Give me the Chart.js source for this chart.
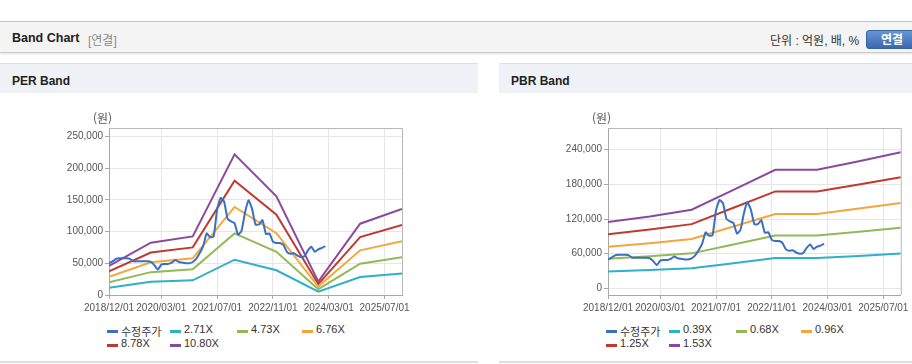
<!DOCTYPE html>
<html lang="ko">
<head>
<meta charset="utf-8">
<script src="https://cdn.jsdelivr.net/npm/chart.js@4.4.1/dist/chart.umd.min.js"></script>
<style>
  html, body { margin:0; padding:0; background:#fff; width:912px; height:364px; overflow:hidden;
    font-family:"Liberation Sans","Noto Sans CJK KR",Arial,sans-serif; }
  .hdr { position:absolute; left:0; top:21px; width:912px; height:30px; background:#f4f4f4;
    border-top:1px solid #c4c4c4; border-bottom:1px solid #cdcdcd; box-shadow:0 1px 2px rgba(0,0,0,0.12); }
  .hdr .t { position:absolute; left:12px; top:9px; font-size:12.5px; font-weight:bold; color:#222; }
  .hdr .s { position:absolute; left:88px; top:9px; font-size:12px; color:#8a8a8a; }
  .hdr .u { position:absolute; left:770px; top:9px; font-size:12px; color:#333; }
  .hdr .b { position:absolute; left:866px; top:8px; width:52px; height:19px; border-radius:3px;
    background:linear-gradient(#6796d4,#3b69b0); border:1px solid #3762a6; color:#fff;
    font-size:12px; font-weight:bold; line-height:18px; text-align:center; box-sizing:border-box; }
  .panel { position:absolute; top:63px; height:298px; border-bottom:2px solid #dedede; }
  .ph { position:absolute; left:0; top:0; right:0; height:29px; background:#eef2f7; border-top:1px solid #dcdfe3; }
  .ph span { position:absolute; left:12px; top:10px; font-size:12px; font-weight:bold; color:#222; }
  canvas { position:absolute; left:0; top:37px; }
  .lg { position:absolute; font-size:11px; color:#333; white-space:nowrap; }
  .lg i { position:absolute; left:0; width:11px; height:3px; top:7px; }
  .lg b { position:absolute; left:14px; top:0; font-weight:normal; }
</style>
</head>
<body>
<div class="hdr">
  <span class="t">Band Chart</span><span class="s">[연결]</span>
  <span class="u">단위 : 억원, 배, %</span>
  <div class="b">연결</div>
</div>
<div class="panel" id="p1" style="left:0;width:478px;">
  <div class="ph"><span>PER Band</span></div>
  <canvas id="c1" width="478" height="220"></canvas>
</div>
<div class="panel" id="p2" style="left:499px;width:413px;">
  <div class="ph"><span>PBR Band</span></div>
  <canvas id="c2" width="413" height="220"></canvas>
</div>
<script>
// ---- data ----
const xTickMonths = [0, 15, 31, 47, 63, 79];
const xTickLabels = ['2018/12/01', '2020/03/01', '2021/07/01', '2022/11/01', '2024/03/01', '2025/07/01'];
const xMaxMonth = 84; // 2025/12/01

// adjusted price, monthly from 2018/12 (month index 0)
const price = [50000, 53000, 57000, 58000, 58000, 58000, 57000, 53000, 53000, 53000,
  53000, 53000, 52000, 47000, 40000, 48000, 49000, 49000, 51000, 55000,
  52000, 51000, 50000, 50000, 52000, 57000, 66000, 77000, 97000, 91000,
  92000, 135000, 153000, 147000, 120000, 116000, 113000, 95000, 101000, 130000,
  149000, 136000, 111000, 111000, 118000, 96000, 97000, 84000, 82000, 82000,
  79000, 68000, 65000, 66000, 62000, 60000, 61000, 70000, 76000, 68000,
  72000, 74000, 77000];

// band points: months from 2018/12 (each December)
const bandMonths = [0, 12, 24, 36, 48, 60, 72, 84];

const perNames = ['2.71X', '4.73X', '6.76X', '8.78X', '10.80X'];
const per271 = [11500, 20700, 23100, 55600, 39000, 5300, 28200, 34000];
const per473 = [20100, 36000, 40400, 97000, 68100, 9200, 49200, 59400];
const per676 = [28700, 51500, 57700, 138600, 97300, 13200, 70300, 84800];
const per878 = [37300, 66900, 75000, 180100, 126400, 17100, 91300, 110200];
const per1080 = [45900, 82300, 92200, 221500, 155500, 21100, 112300, 135500];
const perTicks = [0, 50000, 100000, 150000, 200000, 250000];

const pbrNames = ['0.39X', '0.68X', '0.96X', '1.25X', '1.53X'];
const pbr039 = [29300, 31700, 34700, 43500, 52300, 52300, 56100, 60100];
const pbr068 = [51000, 55400, 60500, 75800, 91300, 91300, 97800, 104700];
const pbr096 = [72000, 78100, 85300, 107000, 128800, 128800, 138000, 147800];
const pbr125 = [93800, 101800, 111100, 139400, 167800, 167800, 179800, 192500];
const pbr153 = [114800, 124500, 136000, 170600, 205300, 205300, 220000, 235600];
const pbrTicks = [0, 60000, 120000, 180000, 240000];

const priceName = '수정주가';
const colors = ['#3a6fc1', '#2fb0c6', '#93b957', '#f3a73b', '#c0392f', '#8a4a9c'];

// ---- chart builder ----
const toXY = (xs, ys) => ys.map((v, i) => ({ x: xs[i], y: v }));
const priceXY = price.map((v, i) => ({ x: i, y: v }));

const framePlugin = {
  id: 'frame',
  beforeDatasetsDraw(chart) {
    const { ctx, chartArea: a } = chart;
    ctx.save();
    ctx.strokeStyle = '#b8b8b8';
    ctx.lineWidth = 1;
    ctx.beginPath();
    ctx.moveTo(a.left, a.top + 0.5);
    ctx.lineTo(a.right + 0.5, a.top + 0.5);
    ctx.lineTo(a.right + 0.5, a.bottom);
    ctx.stroke();
    ctx.restore();
  },
  afterDraw(chart) {
    const { ctx } = chart;
    ctx.save();
    ctx.fillStyle = '#555';
    ctx.font = '12px "Noto Sans CJK KR", sans-serif';
    ctx.textBaseline = 'middle';
    ctx.fillText('(원)', 93, 18);
    ctx.restore();
  }
};

function makeChart(id, bands, names, ticks, yMin, yMax, padRight) {
  const datasets = [{ label: priceName, data: priceXY, borderColor: colors[0], tension: 0.15 }];
  bands.forEach((b, i) => datasets.push({ label: names[i], data: toXY(bandMonths, b), borderColor: colors[i + 1], tension: 0 }));
  datasets.forEach(d => { d.borderWidth = 2; d.pointRadius = 0; d.fill = false; });
  new Chart(document.getElementById(id), {
    type: 'line',
    data: { datasets },
    plugins: [framePlugin],
    options: {
      responsive: false, animation: false, devicePixelRatio: 1,
      layout: { padding: { top: 28, right: padRight, bottom: 0, left: 0 } },
      plugins: { legend: { display: false }, tooltip: { enabled: false } },
      scales: {
        x: {
          type: 'linear', min: 0, max: xMaxMonth,
          afterBuildTicks: s => { s.ticks = xTickMonths.map(v => ({ value: v })); },
          afterFit: s => { s.height = 25; },
          ticks: { autoSkip: false, maxRotation: 0, padding: 3, color: '#555',
            font: { size: 10, family: '"Liberation Sans", Arial, sans-serif' },
            callback: (v, i) => xTickLabels[i] },
          grid: { color: '#e6e6e6', tickLength: 4, tickColor: '#a8a8a8' },
          border: { color: '#a8a8a8' }
        },
        y: {
          min: yMin, max: yMax,
          afterBuildTicks: s => { s.ticks = ticks.map(v => ({ value: v })); },
          afterFit: s => { s.width = 109; },
          ticks: { padding: 2, color: '#555',
            font: { size: 10, family: '"Liberation Sans", Arial, sans-serif' },
            callback: v => Number(v).toLocaleString('en-US') },
          grid: { color: '#e6e6e6', tickLength: 4, tickColor: '#a8a8a8' },
          border: { color: '#a8a8a8' }
        }
      }
    }
  });
}

makeChart('c1', [per271, per473, per676, per878, per1080], perNames, perTicks, 0, 263000, 76);
makeChart('c2', [pbr039, pbr068, pbr096, pbr125, pbr153], pbrNames, pbrTicks, -11600, 277600, 11);

// ---- legends ----
const legendCols = [107, 170, 237, 302];
const legendRows = [330, 344];
function makeLegend(panelId, names) {
  const panel = document.getElementById(panelId);
  const labels = [priceName].concat(names);
  labels.forEach((name, i) => {
    const el = document.createElement('div');
    el.className = 'lg';
    el.style.left = legendCols[i % 4] + 'px';
    el.style.top = (legendRows[Math.floor(i / 4)] - 63 - 7) + 'px';
    el.innerHTML = '<i style="background:' + colors[i] + '"></i><b>' + name + '</b>';
    panel.appendChild(el);
  });
}
makeLegend('p1', perNames);
makeLegend('p2', pbrNames);
</script>
</body>
</html>
